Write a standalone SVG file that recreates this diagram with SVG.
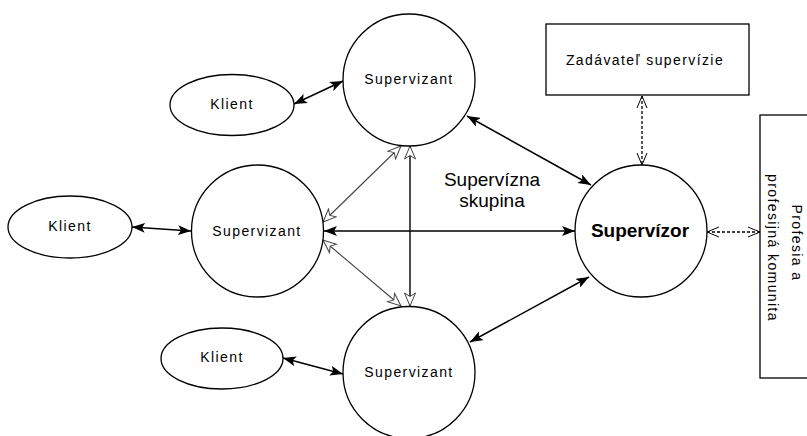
<svg xmlns="http://www.w3.org/2000/svg" width="807" height="436" viewBox="0 0 807 436">
<style>
.shape{fill:#fff;stroke:#000;stroke-width:1.3}
.t{font-family:"Liberation Sans",Arial,sans-serif;font-size:14px;letter-spacing:1.4px;fill:#000;text-anchor:middle}
.big{font-family:"Liberation Sans",Arial,sans-serif;font-size:19px;fill:#000;text-anchor:middle}
.bold{font-family:"Liberation Sans",Arial,sans-serif;font-size:19px;font-weight:bold;fill:#000;text-anchor:middle}
.solid{fill:none;stroke:#000;stroke-width:1.5;marker-start:url(#fa);marker-end:url(#fa)}
.hollow{fill:none;stroke:#444;stroke-width:1.1;marker-start:url(#ha);marker-end:url(#ha)}
.hollowv{fill:none;stroke:#000;stroke-width:1.4;marker-start:url(#ha);marker-end:url(#ha)}
.dash{fill:none;stroke:#000;stroke-width:1.3;stroke-dasharray:3 2;marker-start:url(#va);marker-end:url(#va)}
</style>
<defs>
<marker id="fa" viewBox="0 0 14 10" refX="13" refY="5" markerWidth="14" markerHeight="10" markerUnits="userSpaceOnUse" orient="auto-start-reverse">
<path d="M0,0 L13,5 L0,10 L3,5 z" fill="#000"/>
</marker>
<marker id="ha" viewBox="0 0 15 13" refX="14" refY="6.5" markerWidth="15" markerHeight="13" markerUnits="userSpaceOnUse" orient="auto-start-reverse">
<path d="M1,1 L14,6.5 L1,12 L4.5,6.5 z" fill="#fff" stroke="#444" stroke-width="1"/>
</marker>
<marker id="va" viewBox="0 0 14 12" refX="13" refY="6" markerWidth="14" markerHeight="12" markerUnits="userSpaceOnUse" orient="auto-start-reverse">
<path d="M1,1 L13,6 L1,11" fill="none" stroke="#000" stroke-width="1"/>
</marker>
</defs>
<g id="connectors">
<line class="solid" x1="294" y1="104" x2="343" y2="81"/>
<line class="solid" x1="132" y1="227" x2="191" y2="231"/>
<line class="solid" x1="283" y1="358" x2="343" y2="374"/>
<line class="solid" x1="467" y1="116" x2="591" y2="185"/>
<line class="solid" x1="324" y1="231" x2="575" y2="231"/>
<line class="solid" x1="470" y1="342" x2="589" y2="277"/>
<line class="hollowv" x1="410" y1="146" x2="410" y2="306"/>
<line class="hollow" x1="323" y1="222" x2="401" y2="146"/>
<line class="hollow" x1="323" y1="240" x2="401" y2="306"/>
<line class="dash" x1="642" y1="96" x2="642" y2="165"/>
<line class="dash" x1="707" y1="232" x2="760" y2="232"/>
</g>
<g id="supervizant-top"><circle class="shape" cx="409" cy="80" r="66"/><text class="t" x="409" y="84">Supervizant</text></g>
<g id="supervizant-mid"><circle class="shape" cx="257.5" cy="231" r="66"/><text class="t" x="257" y="236">Supervizant</text></g>
<g id="supervizant-bot"><circle class="shape" cx="409" cy="372.5" r="66"/><text class="t" x="409" y="377">Supervizant</text></g>
<g id="klient-top"><ellipse class="shape" cx="232" cy="105" rx="62" ry="30.5"/><text class="t" x="232" y="109">Klient</text></g>
<g id="klient-mid"><ellipse class="shape" cx="70" cy="227" rx="62" ry="31"/><text class="t" x="70" y="231">Klient</text></g>
<g id="klient-bot"><ellipse class="shape" cx="222" cy="358.5" rx="61" ry="30.5"/><text class="t" x="222" y="362">Klient</text></g>
<g id="supervizor"><circle class="shape" cx="641" cy="231" r="66"/><text class="bold" x="640" y="237">Supervízor</text></g>
<g id="zadavatel"><rect class="shape" x="546" y="24" width="203" height="71"/><text class="t" x="645" y="65">Zadávateľ supervízie</text></g>
<g id="profesia"><rect class="shape" x="760" y="115" width="60" height="263"/>
<text class="t" transform="translate(792,243) rotate(90)">Profesia a</text>
<text class="t" transform="translate(768,248) rotate(90)">profesijná komunita</text></g>
<g id="skupina-label"><text class="big" x="492" y="186">Supervízna</text><text class="big" x="492" y="207">skupina</text></g>
</svg>
